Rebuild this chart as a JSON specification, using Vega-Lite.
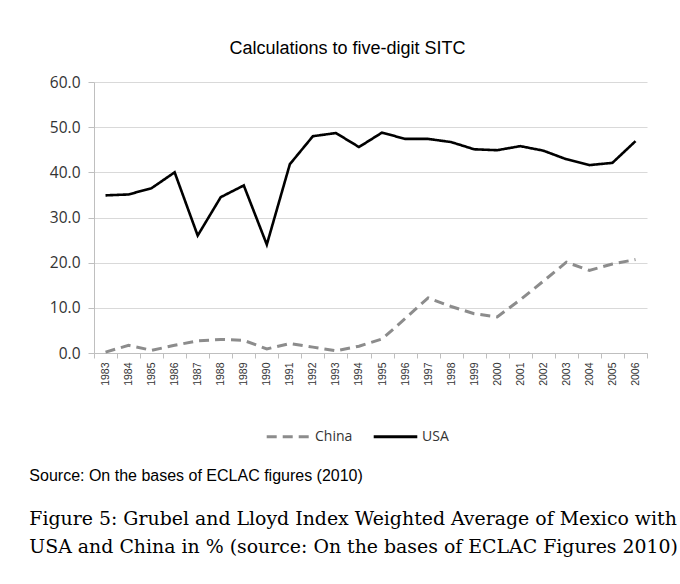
{
  "$schema": "https://vega.github.io/schema/vega-lite/v6.json",
  "autosize": {"type": "none"},
  "width": 553,
  "height": 271,
  "padding": {"left": 94, "top": 82, "right": 33, "bottom": 231},
  "background": "white",
  "title": {
    "text": "Source: On the bases of ECLAC figures (2010)",
    "subtitle": ["Figure 5: Grubel and Lloyd Index Weighted Average of Mexico with", "USA and China in % (source: On the bases of ECLAC Figures 2010)"],
    "orient": "bottom",
    "anchor": "start",
    "frame": "bounds",
    "font": "Liberation Sans",
    "fontSize": 16,
    "fontWeight": "normal",
    "color": "#000000",
    "subtitleFont": "DejaVu Serif",
    "subtitleFontSize": 18.9,
    "subtitleColor": "#000000",
    "subtitlePadding": 26,
    "subtitleLineHeight": 28,
    "offset": 24,
    "dx": -20
  },
  "data": {
    "values": [
      {"year": "1983", "series": "USA", "value": 34.9},
      {"year": "1984", "series": "USA", "value": 35.1},
      {"year": "1985", "series": "USA", "value": 36.5},
      {"year": "1986", "series": "USA", "value": 40.0},
      {"year": "1987", "series": "USA", "value": 26.0},
      {"year": "1988", "series": "USA", "value": 34.5},
      {"year": "1989", "series": "USA", "value": 37.1},
      {"year": "1990", "series": "USA", "value": 24.0},
      {"year": "1991", "series": "USA", "value": 41.8},
      {"year": "1992", "series": "USA", "value": 48.0},
      {"year": "1993", "series": "USA", "value": 48.7},
      {"year": "1994", "series": "USA", "value": 45.6},
      {"year": "1995", "series": "USA", "value": 48.8},
      {"year": "1996", "series": "USA", "value": 47.4},
      {"year": "1997", "series": "USA", "value": 47.4},
      {"year": "1998", "series": "USA", "value": 46.7},
      {"year": "1999", "series": "USA", "value": 45.1},
      {"year": "2000", "series": "USA", "value": 44.9},
      {"year": "2001", "series": "USA", "value": 45.8},
      {"year": "2002", "series": "USA", "value": 44.8},
      {"year": "2003", "series": "USA", "value": 42.9},
      {"year": "2004", "series": "USA", "value": 41.6},
      {"year": "2005", "series": "USA", "value": 42.1},
      {"year": "2006", "series": "USA", "value": 46.9},
      {"year": "1983", "series": "China", "value": 0.2},
      {"year": "1984", "series": "China", "value": 1.7},
      {"year": "1985", "series": "China", "value": 0.6},
      {"year": "1986", "series": "China", "value": 1.7},
      {"year": "1987", "series": "China", "value": 2.7},
      {"year": "1988", "series": "China", "value": 3.0},
      {"year": "1989", "series": "China", "value": 2.8},
      {"year": "1990", "series": "China", "value": 0.9},
      {"year": "1991", "series": "China", "value": 2.1},
      {"year": "1992", "series": "China", "value": 1.3},
      {"year": "1993", "series": "China", "value": 0.5},
      {"year": "1994", "series": "China", "value": 1.5},
      {"year": "1995", "series": "China", "value": 3.1},
      {"year": "1996", "series": "China", "value": 7.6},
      {"year": "1997", "series": "China", "value": 12.2},
      {"year": "1998", "series": "China", "value": 10.3},
      {"year": "1999", "series": "China", "value": 8.7},
      {"year": "2000", "series": "China", "value": 8.0},
      {"year": "2001", "series": "China", "value": 11.8},
      {"year": "2002", "series": "China", "value": 15.9},
      {"year": "2003", "series": "China", "value": 20.1},
      {"year": "2004", "series": "China", "value": 18.3},
      {"year": "2005", "series": "China", "value": 19.7},
      {"year": "2006", "series": "China", "value": 20.7}
    ]
  },
  "encoding": {
    "y": {
      "field": "value",
      "type": "quantitative",
      "scale": {"domain": [0, 60], "nice": false, "zero": true},
      "axis": {
        "values": [0, 10, 20, 30, 40, 50, 60],
        "format": ".1f",
        "title": null,
        "labelFont": "Open Sans",
        "labelFontSize": 15.5,
        "labelColor": "#333333",
        "labelPadding": 8,
        "tickSize": 6,
        "tickColor": "#bfbfbf",
        "domainColor": "#bfbfbf",
        "gridColor": "#d9d9d9",
        "gridWidth": 1.2
      }
    },
    "color": {
      "field": "series",
      "type": "nominal",
      "scale": {"domain": ["China", "USA"], "range": ["#8c8c8c", "#000000"]},
      "legend": {
        "title": null,
        "orient": "none",
        "legendX": 171,
        "legendY": 331,
        "direction": "horizontal",
        "symbolType": "stroke",
        "symbolSize": 1900,
        "symbolStrokeWidth": 3,
        "labelFont": "Open Sans",
        "labelFontSize": 14,
        "labelColor": "#333333",
        "labelOffset": 3,
        "columnPadding": 14
      }
    },
    "strokeDash": {
      "field": "series",
      "type": "nominal",
      "scale": {"domain": ["China", "USA"], "range": [[10, 6], [1, 0]]}
    }
  },
  "layer": [
    {
      "transform": [{"filter": "datum.series === 'China'"}],
      "mark": {"type": "line", "strokeWidth": 3},
      "encoding": {
        "x": {
          "field": "year",
          "type": "ordinal",
          "scale": {"type": "band", "paddingInner": 0, "paddingOuter": 0},
          "axis": {
            "orient": "bottom",
            "title": null,
            "labelAngle": -90,
            "labelFont": "Liberation Sans",
            "labelFontSize": 10.5,
            "labelColor": "#333333",
            "labelPadding": 4,
            "tickBand": "extent",
            "tickSize": 5,
            "tickColor": "#bfbfbf",
            "domainColor": "#bfbfbf",
            "grid": false
          }
        }
      }
    },
    {
      "transform": [{"filter": "datum.series === 'USA'"}],
      "mark": {"type": "line", "strokeWidth": 2.6},
      "encoding": {
        "x": {
          "field": "year",
          "type": "ordinal",
          "scale": {"type": "band", "paddingInner": 0, "paddingOuter": 0},
          "axis": {
            "orient": "top",
            "title": "Calculations to five-digit SITC",
            "titleFont": "Liberation Sans",
            "titleFontSize": 18,
            "titleFontWeight": "normal",
            "titleColor": "#000000",
            "titlePadding": 25,
            "titleX": 253,
            "labels": false,
            "ticks": false,
            "domain": false,
            "grid": false
          }
        }
      }
    }
  ],
  "resolve": {"axis": {"x": "independent"}},
  "config": {"view": {"stroke": null}}
}
